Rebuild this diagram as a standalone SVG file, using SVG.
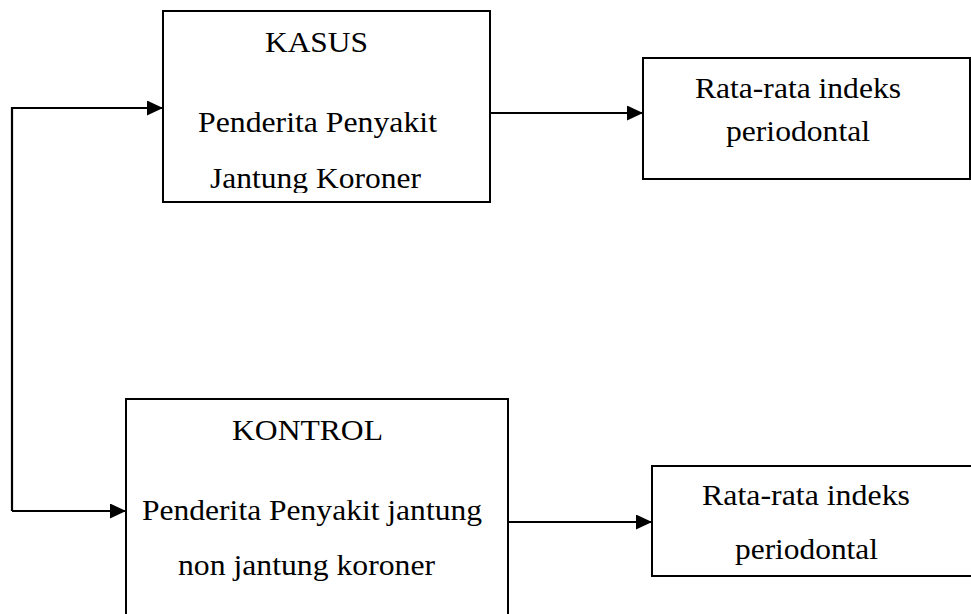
<svg xmlns="http://www.w3.org/2000/svg" width="971" height="614" viewBox="0 0 971 614">
  <style>
    .box { fill: #ffffff; stroke: #000000; stroke-width: 2; }
    .lbl { font-family: "Liberation Serif", "Times New Roman", serif; font-size: 29px; fill: #000000; }
    .conn { fill: none; stroke: #000000; stroke-width: 2.2; }
  </style>
  <defs>
    <marker id="arrow" markerUnits="userSpaceOnUse" markerWidth="17" markerHeight="16" refX="16" refY="7.5" orient="auto">
      <path d="M0,0 L16,7.5 L0,15 z" fill="#000000"/>
    </marker>
    <clipPath id="clipKasus">
      <rect x="160" y="0" width="340" height="193"/>
    </clipPath>
  </defs>
  <rect width="971" height="614" fill="#ffffff"/>

  <g id="kasus">
    <rect class="box" x="163" y="11" width="327" height="191"/>
    <g clip-path="url(#clipKasus)">
      <text class="lbl" x="265" y="52" textLength="103" lengthAdjust="spacingAndGlyphs">KASUS</text>
      <text class="lbl" x="198" y="132" textLength="239" lengthAdjust="spacingAndGlyphs">Penderita Penyakit</text>
      <text class="lbl" x="210" y="188" textLength="211" lengthAdjust="spacingAndGlyphs">Jantung Koroner</text>
    </g>
  </g>

  <g id="rata-kasus">
    <rect class="box" x="643" y="58" width="327" height="121"/>
    <text class="lbl" x="695" y="98" textLength="206" lengthAdjust="spacingAndGlyphs">Rata-rata indeks</text>
    <text class="lbl" x="726" y="141" textLength="144" lengthAdjust="spacingAndGlyphs">periodontal</text>
  </g>

  <g id="kontrol">
    <rect class="box" x="126" y="399" width="382" height="240"/>
    <text class="lbl" x="232" y="440" textLength="151" lengthAdjust="spacingAndGlyphs">KONTROL</text>
    <text class="lbl" x="142" y="520" textLength="340" lengthAdjust="spacingAndGlyphs">Penderita Penyakit jantung</text>
    <text class="lbl" x="178" y="575" textLength="257" lengthAdjust="spacingAndGlyphs">non jantung koroner</text>
  </g>

  <g id="rata-kontrol">
    <rect class="box" x="652" y="466" width="330" height="110"/>
    <text class="lbl" x="702" y="505" textLength="208" lengthAdjust="spacingAndGlyphs">Rata-rata indeks</text>
    <text class="lbl" x="735" y="559" textLength="143" lengthAdjust="spacingAndGlyphs">periodontal</text>
  </g>

  <g id="connectors">
    <path class="conn" d="M12,511 V108 H163" marker-end="url(#arrow)"/>
    <path class="conn" d="M12,511 H126" marker-end="url(#arrow)"/>
    <path class="conn" d="M490,113 H643" marker-end="url(#arrow)"/>
    <path class="conn" d="M508,522 H652" marker-end="url(#arrow)"/>
  </g>
</svg>
